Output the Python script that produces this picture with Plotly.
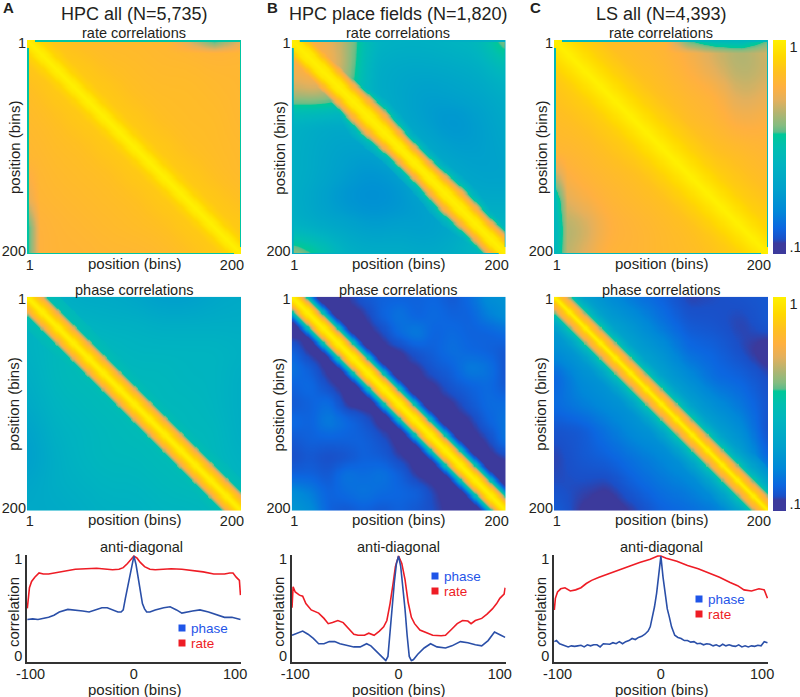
import numpy as np
import plotly.graph_objects as go

W, H = 800, 697
FONT = "Liberation Sans"

# ---- anti-diagonal curves (lag, correlation) ----
A_RATE_X = [-100,-99,-98,-96,-93,-89,-85,-80,-75,-65,-55,-45,-35,-25,-20,-14,-10,-6,-3,0,3,6,10,15,20,30,35,45,55,65,75,85,90,93,96,99,100]
A_RATE_Y = [.505,.60,.70,.76,.80,.84,.83,.83,.84,.86,.875,.88,.885,.875,.87,.875,.89,.93,.97,1.0,.98,.94,.90,.875,.87,.875,.88,.875,.865,.85,.83,.83,.84,.84,.80,.77,.63]
A_PHASE_X = [-100,-95,-90,-85,-80,-75,-70,-62,-55,-48,-42,-36,-30,-25,-20,-15,-12,-10,-8,-6,-4,-2,0,2,4,6,8,10,12,15,20,28,34,40,45,55,62,70,80,85,92,98,100]
A_PHASE_Y = [.40,.405,.40,.41,.42,.44,.47,.495,.49,.48,.47,.49,.51,.51,.49,.47,.47,.49,.60,.70,.82,.93,1.0,.92,.80,.67,.55,.50,.47,.47,.49,.51,.52,.49,.46,.48,.49,.47,.44,.42,.42,.40,.40]
B_RATE_X = [-100,-99,-97,-93,-90,-87,-82,-75,-70,-66,-62,-57,-52,-47,-42,-38,-32,-28,-23,-18,-14,-11,-8,-5,-3,0,3,6,9,12,15,20,27,32,40,44,50,55,60,65,68,72,78,83,88,92,95,99,100]
B_RATE_Y = [.51,.71,.66,.63,.62,.55,.49,.46,.41,.36,.37,.39,.37,.32,.26,.25,.25,.27,.25,.29,.33,.39,.55,.75,.90,1.0,.93,.78,.56,.42,.36,.30,.27,.25,.245,.25,.31,.36,.39,.385,.36,.39,.41,.45,.50,.55,.60,.64,.70]
B_PHASE_X = [-100,-95,-90,-85,-80,-75,-70,-65,-60,-55,-48,-42,-36,-30,-26,-20,-15,-12,-10,-8,-6,-4,-2,0,2,4,6,8,10,12,14,18,24,30,36,44,50,58,65,72,78,84,90,96,100]
B_PHASE_Y = [.25,.27,.29,.26,.22,.17,.17,.19,.19,.17,.15,.14,.14,.17,.15,.09,.04,.01,.05,.30,.55,.75,.93,1.0,.90,.72,.50,.25,.05,.01,.02,.07,.13,.17,.14,.13,.15,.19,.18,.16,.15,.20,.28,.25,.23]
C_RATE_X = [-100,-99,-97,-94,-90,-85,-80,-75,-70,-65,-58,-50,-40,-30,-20,-10,-3,0,5,15,25,35,45,55,65,72,78,85,92,97,100]
C_RATE_Y = [.49,.60,.66,.69,.70,.67,.68,.70,.74,.77,.80,.83,.86,.90,.94,.97,1.0,1.0,.98,.95,.91,.88,.84,.80,.75,.72,.68,.67,.69,.68,.60]
C_PHASE_X = [-100,-98,-95,-92,-90,-87,-84,-81,-78,-75,-72,-69,-66,-63,-60,-57,-54,-51,-48,-45,-42,-39,-36,-33,-30,-27,-24,-21,-18,-15,-12,-10,-8,-6,-4,-2,0,2,4,6,8,10,13,16,19,22,25,28,31,34,37,40,43,46,49,52,55,58,61,64,67,70,73,76,79,82,85,88,91,94,97,100]
C_PHASE_Y = [.19,.20,.17,.16,.15,.14,.15,.145,.15,.155,.14,.16,.15,.16,.16,.14,.17,.17,.165,.18,.17,.19,.17,.19,.20,.22,.21,.23,.24,.26,.29,.33,.42,.52,.65,.80,1.0,.80,.62,.50,.42,.33,.25,.23,.22,.20,.20,.185,.19,.17,.175,.16,.17,.165,.15,.16,.145,.165,.15,.16,.15,.145,.16,.14,.15,.14,.15,.145,.155,.15,.19,.18]

# ---- correlation matrices: coarse values ----
A_RATE_BG = [
 [.90,.88,.85,.84,.84,.83,.82,.80,.82],
 [.88,.90,.89,.86,.85,.84,.84,.83,.83],
 [.85,.89,.90,.89,.86,.85,.85,.84,.83],
 [.84,.86,.89,.90,.89,.86,.85,.85,.83],
 [.83,.85,.86,.89,.90,.89,.86,.85,.84],
 [.82,.84,.85,.86,.89,.90,.89,.86,.84],
 [.82,.83,.84,.85,.86,.89,.90,.89,.86],
 [.80,.82,.83,.84,.85,.86,.89,.90,.89],
 [.80,.82,.82,.83,.83,.84,.86,.89,.90]]
B_RATE_BG = [
 [.85,.78,.70,.48,.46,.46,.48,.50,.68],
 [.78,.85,.70,.44,.41,.41,.42,.44,.52],
 [.70,.72,.65,.44,.40,.36,.38,.40,.44],
 [.46,.43,.42,.50,.42,.36,.32,.36,.42],
 [.45,.41,.38,.38,.48,.42,.36,.36,.40],
 [.45,.41,.36,.32,.36,.48,.42,.38,.38],
 [.44,.38,.32,.30,.32,.38,.45,.42,.42],
 [.46,.42,.40,.36,.38,.36,.40,.50,.48],
 [.70,.60,.46,.44,.44,.42,.44,.50,.60]]
C_RATE_BG = [
 [.95,.88,.85,.84,.82,.78,.72,.68,.74],
 [.90,.93,.90,.86,.84,.80,.74,.68,.72],
 [.87,.91,.93,.90,.86,.83,.81,.72,.76],
 [.85,.87,.91,.93,.91,.85,.83,.78,.80],
 [.83,.84,.87,.91,.94,.91,.86,.84,.82],
 [.78,.82,.84,.86,.90,.93,.91,.87,.84],
 [.72,.78,.82,.84,.86,.90,.93,.91,.87],
 [.68,.70,.80,.82,.84,.86,.90,.94,.92],
 [.68,.74,.82,.82,.84,.85,.87,.91,.97]]
A_PHASE_BG = [
 [.50,.46,.42,.42,.40,.36,.36,.40,.42],
 [.46,.50,.48,.46,.46,.44,.44,.44,.44],
 [.46,.50,.52,.50,.48,.48,.48,.48,.46],
 [.44,.50,.52,.52,.50,.50,.48,.48,.44],
 [.42,.48,.50,.52,.52,.50,.50,.48,.44],
 [.38,.46,.48,.50,.52,.52,.50,.50,.44],
 [.36,.44,.48,.50,.50,.52,.52,.50,.46],
 [.40,.44,.46,.48,.48,.50,.52,.52,.48],
 [.42,.42,.44,.46,.46,.48,.48,.50,.50]]
B_PHASE_BG = [
 [.13,.13,.13,.14,.18,.20,.20,.20,.21,.18,.22,.30,.32],
 [.13,.13,.13,.13,.14,.20,.24,.20,.22,.20,.20,.26,.30],
 [.13,.13,.13,.13,.13,.15,.22,.26,.20,.22,.20,.20,.22],
 [.20,.13,.13,.13,.13,.13,.14,.18,.20,.23,.21,.20,.18],
 [.24,.19,.13,.13,.13,.13,.13,.14,.18,.20,.26,.24,.17],
 [.20,.22,.16,.13,.13,.13,.13,.13,.14,.18,.20,.22,.18],
 [.18,.20,.23,.14,.13,.13,.13,.13,.13,.14,.18,.22,.22],
 [.22,.20,.26,.22,.18,.13,.13,.13,.13,.13,.14,.20,.24],
 [.18,.20,.20,.20,.20,.17,.13,.13,.13,.13,.13,.15,.24],
 [.16,.18,.16,.17,.20,.19,.15,.13,.13,.13,.13,.13,.15],
 [.20,.20,.18,.24,.22,.24,.20,.14,.13,.13,.13,.13,.13],
 [.30,.26,.20,.22,.24,.22,.21,.20,.15,.13,.13,.13,.13],
 [.34,.30,.20,.18,.20,.18,.20,.18,.16,.13,.13,.13,.13]]
C_PHASE_BG = [
 [.50,.38,.30,.24,.20,.15,.16,.17,.18],
 [.36,.46,.38,.32,.24,.18,.17,.15,.18],
 [.30,.36,.46,.38,.32,.22,.20,.16,.12],
 [.20,.30,.34,.46,.38,.30,.22,.20,.16],
 [.22,.26,.30,.34,.46,.38,.30,.24,.17],
 [.17,.18,.24,.30,.34,.46,.38,.30,.16],
 [.15,.18,.20,.24,.28,.34,.46,.38,.20],
 [.16,.16,.15,.20,.24,.27,.34,.46,.36],
 [.19,.14,.12,.15,.20,.22,.25,.34,.50]]

# value across the diagonal ridge, by distance |i-j| in bins
A_RATE_RIDGE = ([0,6,12,20,32], [1,.97,.92,.89,.85])
B_RATE_RIDGE = ([0,5,9,13,16,19,23,30], [1,.97,.90,.82,.75,.62,.50,.42])
C_RATE_RIDGE = ([0,6,14,26,45], [1,.98,.95,.91,.87])
A_PHASE_RIDGE = ([0,3,7,10,12,14,16,19,30], [1,.97,.90,.86,.82,.76,.66,.54,.50])
B_PHASE_RIDGE = ([0,4,8,11,14,17,20,24], [1,.95,.85,.72,.55,.35,.20,.13])
C_PHASE_RIDGE = ([0,2,5,8,11,13,16,20,28,40], [1,.96,.88,.84,.78,.70,.58,.48,.38,.30])
# relative ridge width along the diagonal (panel B rate bulges)
B_RATE_WIDTH = [1.3,1.25,1.05,1.15,.95,.95,1.1,1.0,1.1]
# values along the top and left borders of the rate matrices
A_TOP_BORDER = [1,1,1,1,1,.85,.75,.60,.75]
A_LEFT_BORDER = [1,1,1,1,.85,.80,.75,.60,.60]
C_TOP_BORDER = [1,1,1,1,.85,.62,.52,.50,.62]
C_LEFT_BORDER = [1,1,1,1,.85,.72,.52,.48,.50]
A_RATE_EDGE, C_RATE_EDGE, B_RATE_EDGE = .58, .50, .45

TITLES = ["HPC all (N=5,735)", "HPC place fields (N=1,820)", "LS all (N=4,393)"]
BLUE, RED = "#2a4fa8", "#ee1c25"

COLORSCALE = [[0,"#3c3a9c"],[.05,"#3c3a9c"],[.07,"#1a50c8"],[.12,"#0c66e0"],[.2,"#0088d8"],[.3,"#00a0cc"],
              [.42,"#00b4c0"],[.5,"#00bfb0"],[.56,"#00c898"],[.57,"#5cbc8a"],[.6,"#84bc80"],[.66,"#b4b470"],
              [.72,"#e4b05c"],[.78,"#ffb040"],[.85,"#ffc020"],[.92,"#ffd800"],[1,"#fff000"]]

LEFT = [27, 291.7, 554]
SIZE = 214
ROW_TOP = [40, 296.7]
LINE_TOP, LINE_BOT = 555, 661.7
CX = [134, 398, 661]


def px(x): return x / W
def py(y): return 1 - y / H


def blur(a, k):
    kernel = np.ones(k) / k
    pad = k // 2
    for axis in (0, 1):
        p = [(pad, pad) if n == axis else (0, 0) for n in range(2)]
        a = np.apply_along_axis(lambda v: np.convolve(v, kernel, mode="valid"), axis, np.pad(a, p, mode="edge"))
    return a


def matrix(bg, ridge, edge=None, width=None, top_border=None, left_border=None, k=25):
    bg = np.array(bg, float)
    n = 200
    t = np.arange(n) / (n - 1) * (bg.shape[0] - 1)
    i0 = np.minimum(t.astype(int), bg.shape[0] - 2)
    f = t - i0
    top = bg[i0][:, i0] * (1 - f)[None, :] + bg[i0][:, i0 + 1] * f[None, :]
    bot = bg[i0 + 1][:, i0] * (1 - f)[None, :] + bg[i0 + 1][:, i0 + 1] * f[None, :]
    base = blur(top * (1 - f)[:, None] + bot * f[:, None], k)
    I, J = np.arange(n)[:, None], np.arange(n)[None, :]
    d = np.abs(I - J).astype(float)
    if width is not None:
        d = d / np.interp((I + J) / 2, np.linspace(0, n - 1, len(width)), width)
    z = np.maximum(base, np.interp(d, ridge[0], ridge[1], right=0))
    pos = np.linspace(0, n - 1, 9)
    thick = 12
    if top_border is not None:
        a = np.clip(1 - np.arange(n) / thick, 0, 1)[:, None]
        lim = np.interp(np.arange(n), pos, top_border)[None, :]
        z = z * (1 - a) + np.minimum(z, lim) * a
    if left_border is not None:
        a = np.clip(1 - np.arange(n) / thick, 0, 1)[None, :]
        lim = np.interp(np.arange(n), pos, left_border)[:, None]
        z = z * (1 - a) + np.minimum(z, lim) * a
    if edge is not None:
        far = np.abs(I - J) > 6
        for s in (0, -1):
            z[s, :][far[s, :]] = edge
            z[:, s][far[:, s]] = edge
    return np.round(z, 3)


fig = go.Figure()
layout = {}
ann = []
shapes = []


def text(x, y, s, size=15, color="#231f20", angle=0, anchor="center", bold=False):
    ann.append(dict(x=px(x), y=py(y), xref="paper", yref="paper", text=f"<b>{s}</b>" if bold else s, showarrow=False,
                    xanchor=anchor, yanchor="middle", textangle=angle, font=dict(family=FONT, size=size, color=color)))


matrices = [
    [matrix(A_RATE_BG, A_RATE_RIDGE, A_RATE_EDGE, None, A_TOP_BORDER, A_LEFT_BORDER),
     matrix(B_RATE_BG, B_RATE_RIDGE, B_RATE_EDGE, B_RATE_WIDTH),
     matrix(C_RATE_BG, C_RATE_RIDGE, C_RATE_EDGE, None, C_TOP_BORDER, C_LEFT_BORDER)],
    [matrix(A_PHASE_BG, A_PHASE_RIDGE),
     matrix(B_PHASE_BG, B_PHASE_RIDGE, k=11),
     matrix(C_PHASE_BG, C_PHASE_RIDGE, k=15)],
]
ax = 0
for r, row in enumerate(matrices):
    for c, z in enumerate(row):
        ax += 1
        top = ROW_TOP[r]
        scale = c == 2
        fig.add_trace(go.Heatmap(
            z=z, x=list(range(1, 201)), y=list(range(1, 201)),
            xaxis=f"x{ax}", yaxis=f"y{ax}", zmin=.1, zmax=1, colorscale=COLORSCALE, zsmooth="best",
            hoverinfo="skip", showscale=scale,
            colorbar=dict(x=px(773), xanchor="left", xpad=0, ypad=0, thickness=13, thicknessmode="pixels",
                          len=SIZE, lenmode="pixels", y=py(top), yanchor="top", outlinewidth=0,
                          tickmode="array", tickvals=[.97, .13], ticktext=["1", ".1"], ticklen=0,
                          tickfont=dict(family=FONT, size=14.5, color="#231f20")) if scale else None))
        layout[f"xaxis{ax}"] = dict(domain=[px(LEFT[c]), px(LEFT[c] + SIZE)], range=[.5, 200.5], anchor=f"y{ax}",
                                    tickmode="array", tickvals=[3, 192], ticktext=["1", "200"], ticklen=0,
                                    showgrid=False, zeroline=False, showline=False,
                                    tickfont=dict(family=FONT, size=14.5, color="#231f20"))
        layout[f"yaxis{ax}"] = dict(domain=[py(top + SIZE), py(top)], range=[200.5, .5], anchor=f"x{ax}",
                                    tickmode="array", tickvals=[3, 197.5], ticktext=["1", "200"], ticklen=0,
                                    showgrid=False, zeroline=False, showline=False,
                                    tickfont=dict(family=FONT, size=14.5, color="#231f20"))
        text(CX[c], top - 7, "rate correlations" if r == 0 else "phase correlations", 14.5)
        text(CX[c], top + SIZE + 9, "position (bins)", 15)
        text(LEFT[c] - 13, top + 108, "position (bins)", 15, angle=-90)

curves = [(A_PHASE_X, A_PHASE_Y, A_RATE_X, A_RATE_Y), (B_PHASE_X, B_PHASE_Y, B_RATE_X, B_RATE_Y), (C_PHASE_X, C_PHASE_Y, C_RATE_X, C_RATE_Y)]
LEG_Y = [628, 576, 599]
LEG_X = [182, 435, 699]
for c, (px_, py_, rx_, ry_) in enumerate(curves):
    ax += 1
    fig.add_trace(go.Scatter(x=rx_, y=ry_, mode="lines", line=dict(color=RED, width=1.6), xaxis=f"x{ax}", yaxis=f"y{ax}", name="rate", showlegend=False, hoverinfo="skip"))
    fig.add_trace(go.Scatter(x=px_, y=py_, mode="lines", line=dict(color=BLUE, width=1.6), xaxis=f"x{ax}", yaxis=f"y{ax}", name="phase", showlegend=False, hoverinfo="skip"))
    layout[f"xaxis{ax}"] = dict(domain=[px(LEFT[c]), px(LEFT[c] + SIZE)], range=[-100.3, 100.5], anchor=f"y{ax}",
                                tickmode="array", tickvals=[-97, 0, 95], ticktext=["-100", "0", "100"], ticklen=0,
                                ticklabelstandoff=-2,
                                showgrid=False, zeroline=False, showline=True, linecolor="#333", linewidth=1.5,
                                tickfont=dict(family=FONT, size=14.5, color="#231f20"))
    layout[f"yaxis{ax}"] = dict(domain=[py(LINE_BOT), py(LINE_TOP)], range=[0, 1.01], anchor=f"x{ax}",
                                tickmode="array", tickvals=[.97, .05], ticktext=["1", "0"], ticklen=0,
                                showgrid=False, zeroline=False, showline=True, linecolor="#333", linewidth=1.5,
                                tickfont=dict(family=FONT, size=14.5, color="#231f20"))
    text(CX[c] + 7 if c == 0 else CX[c], 547, "anti-diagonal", 14.5)
    text(CX[c], 689, "position (bins)", 15)
    text(LEFT[c] - 14, 612, "correlation", 15, angle=-90)
    for k, (lab, col) in enumerate([("phase", "#1f55e8"), ("rate", "#ee1c25")]):
        y = LEG_Y[c] + k * 15
        shapes.append(dict(type="rect", xref="paper", yref="paper", x0=px(LEG_X[c] - 3.5), x1=px(LEG_X[c] + 3.5),
                           y0=py(y + 3.5), y1=py(y - 3.5), fillcolor=col, line=dict(width=0)))
        text(LEG_X[c] + 7, y, lab, 13.5, color=col, anchor="left")

for c in range(3):
    text(CX[c], 14, TITLES[c], 18)
text(8, 8, "A", 15, bold=True)
text(272, 8, "B", 15, bold=True)
text(535, 8, "C", 15, bold=True)

fig.update_layout(width=W, height=H, margin=dict(l=0, r=0, t=0, b=0, autoexpand=False), plot_bgcolor="white", paper_bgcolor="white",
                  showlegend=False, annotations=ann, shapes=shapes, **layout)
fig.write_html("out.html", config={"displayModeBar": False}, post_script="document.body.style.margin='0';")
